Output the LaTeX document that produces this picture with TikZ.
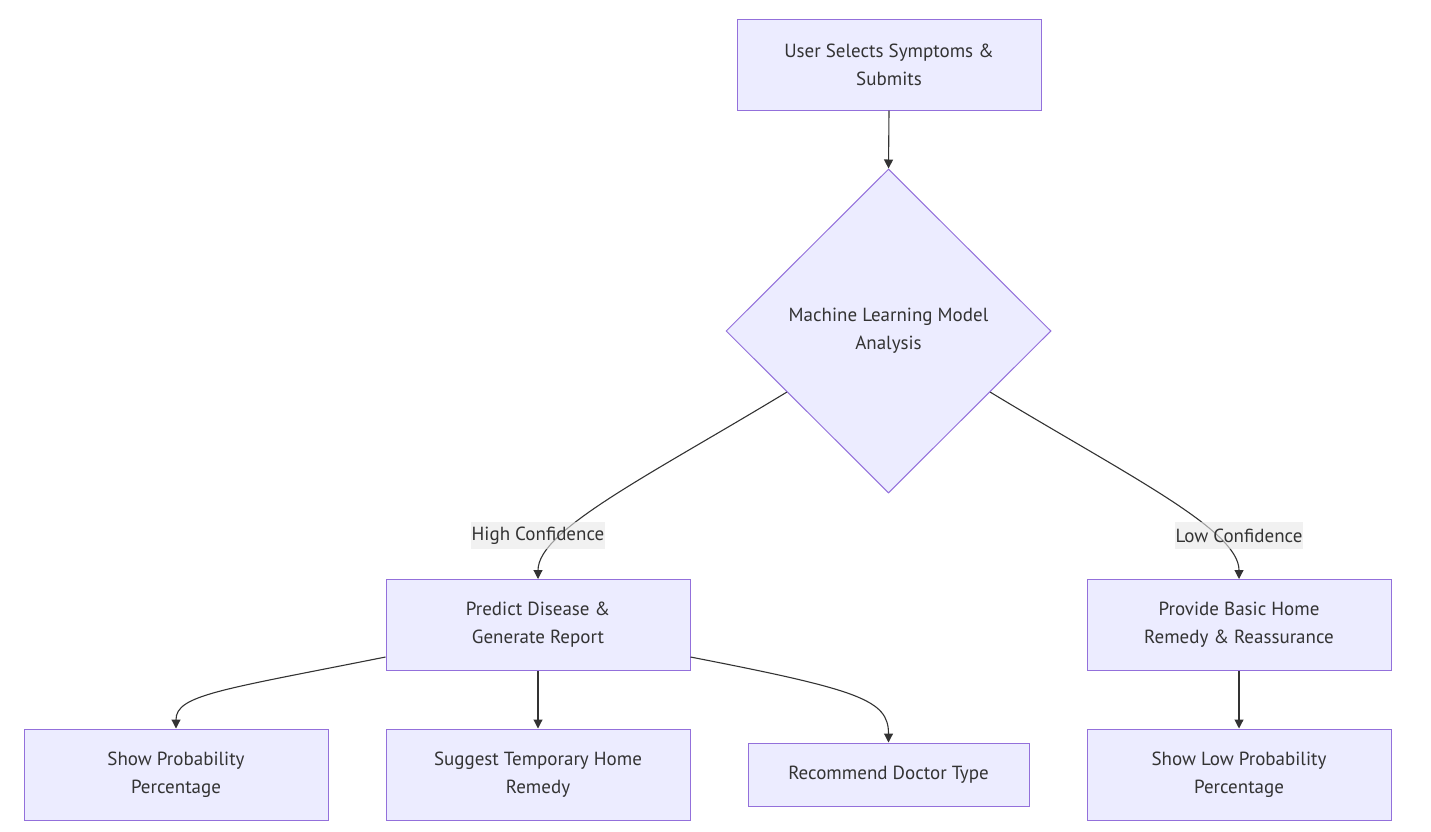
\documentclass[tikz,border=0pt]{standalone}
\usepackage{fontspec}
\setmainfont{PT Sans}
\usetikzlibrary{shapes.geometric,arrows.meta,calc}
\definecolor{nodefill}{HTML}{ECECFF}
\definecolor{nodeline}{HTML}{9370DB}
\definecolor{txt}{HTML}{333333}
\definecolor{lblbg}{HTML}{E8E8E8}
\begin{document}
\begin{tikzpicture}[x=1pt,y=-1pt,
  box/.style={draw=nodeline,fill=nodefill,line width=1pt,minimum width=304pt,minimum height=91pt,
    align=center,font=\fontsize{19}{28}\selectfont,text=txt,inner sep=0pt},
  dia/.style={diamond,draw=nodeline,fill=nodefill,line width=1pt,minimum width=325pt,minimum height=324pt,
    align=center,font=\fontsize{19}{28}\selectfont,text=txt,inner sep=0pt},
  lbl/.style={fill=lblbg,fill opacity=0.6,text opacity=1,text=txt,font=\fontsize{19}{22}\selectfont,
    inner xsep=1pt,inner ysep=0pt,minimum height=27pt},
  edge/.style={draw=txt,line width=1.1pt,-{Triangle[length=9pt,width=9pt]}}]
\useasboundingbox (0,0) rectangle (1431,831);

\node[box] (top) at (889,64.5) {User Selects Symptoms \&\\Submits};
\node[dia] (ml) at (888.5,331) {Machine Learning Model\\Analysis};
\node[box] (pred) at (538,625) {Predict Disease \&\\ Generate Report};
\node[box] (prov) at (1239,625) {Provide Basic Home\\Remedy \& Reassurance};
\node[box] (prob) at (176,774.5) {Show Probability\\Percentage};
\node[box] (sugg) at (538,774.5) {Suggest Temporary Home\\Remedy};
\node[box,minimum width=281pt,minimum height=63pt] (doc) at (888.5,774.5) {Recommend Doctor Type};
\node[box] (low) at (1239,774.5) {Show Low Probability\\Percentage};

\coordinate (mlL) at ($(ml.west)!0.376!(ml.south)$);
\coordinate (mlR) at ($(ml.east)!0.376!(ml.south)$);
\coordinate (predL) at ([yshift=-32pt]pred.west);
\coordinate (predR) at ([yshift=-32pt]pred.east);

\draw[edge] (top.south) -- (ml.north);
\draw[edge] (mlL) .. controls (650,475) and (538,530) .. (pred.north);
\draw[edge] (mlR) .. controls (1127,475) and (1239,530) .. (prov.north);
\draw[edge] (predL) .. controls (220,690) and (176,695) .. (prob.north);
\draw[edge] (pred.south) -- (sugg.north);
\draw[edge] (predR) .. controls (860,690) and (888.5,700) .. (doc.north);
\draw[edge] (prov.south) -- (low.north);

\node[lbl] (hc) at (538,535.5) {High Confidence};
\node[lbl] (lc) at (1239,535.5) {Low Confidence};
\end{tikzpicture}
\end{document}
